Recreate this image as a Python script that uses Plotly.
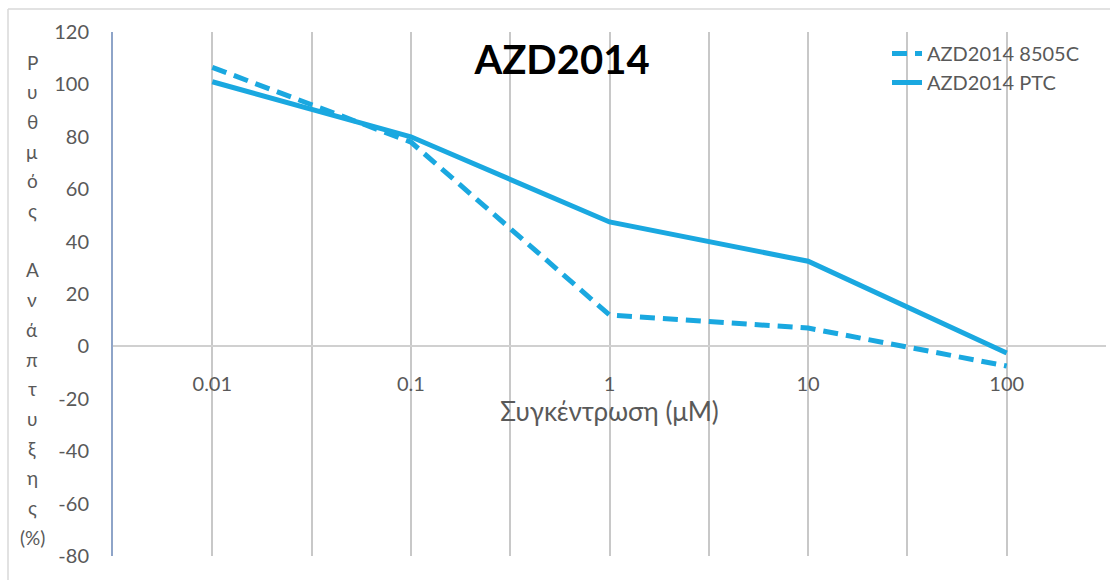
import plotly.graph_objects as go

concentrations = [0.01, 0.1, 1, 10, 100]
tick_labels = ["0.01", "0.1", "1", "10", "100"]
y_ticks = [-80, -60, -40, -20, 0, 20, 40, 60, 80, 100, 120]
y_tick_labels = ["-80", "-60", "-40", "-20", "0", "20", "40", "60", "80", "100", "120"]
growth_8505c = [106.5, 78, 12, 7, -7.5]
growth_ptc = [101, 80, 47.5, 32.5, -2.5]
series_names = ["AZD2014 8505C", "AZD2014 PTC"]
y_title_chars = ["Ρ", "υ", "θ", "μ", "ό", "ς", "", "Α", "ν", "ά", "π", "τ", "υ", "ξ", "η", "ς", "(%)"]

LINE_COLOR = "#1AA8E0"
FONT = "Lato"
TXT = "#595959"

fig = go.Figure()
fig.add_trace(go.Scatter(x=concentrations, y=growth_8505c, mode="lines", name=series_names[0],
                         line=dict(color=LINE_COLOR, width=5, dash="15px,8px")))
fig.add_trace(go.Scatter(x=concentrations, y=growth_ptc, mode="lines", name=series_names[1],
                         line=dict(color=LINE_COLOR, width=5)))

W, H = 1110, 580
L, R, T, B = 113, 4, 32, 24
pw, ph = W - L - R, H - T - B

def px_to_paper_x(px):
    return (px - L) / pw

def px_to_paper_y(py):
    return (H - B - py) / ph

minor_vals = [0.01 / 10 ** 0.5 * 10 ** i for i in range(6)]

fig.update_layout(
    width=W, height=H,
    margin=dict(l=L, r=R, t=T, b=B),
    paper_bgcolor="white", plot_bgcolor="white",
    font=dict(family=FONT, color=TXT),
    title=dict(text="<b>AZD2014</b>", x=562 / W, xanchor="center", xref="container",
               y=1 - 60 / H, yanchor="middle", yref="container",
               font=dict(family=FONT, size=40, color="black")),
    showlegend=True,
    legend=dict(x=px_to_paper_x(887), y=px_to_paper_y(34), xanchor="left", yanchor="top",
                bgcolor="rgba(255,255,255,0)", font=dict(size=20, color=TXT),
                tracegroupgap=0, itemwidth=30),
    xaxis=dict(type="log", range=[-2.5, 2.5], tickvals=concentrations, ticktext=tick_labels,
               anchor="free", position=0.4, showline=False, zeroline=False,
               ticks="outside", ticklen=20, tickcolor="rgba(0,0,0,0)",
               tickfont=dict(size=20, color=TXT),
               showgrid=True, gridcolor="#C8C8C8", gridwidth=1.5,
               minor=dict(tickvals=minor_vals, showgrid=True, gridcolor="#C8C8C8", gridwidth=1.5, ticks=""),
               title=dict(text="Συγκέντρωση (μM)", font=dict(size=26, color=TXT), standoff=0)),
    yaxis=dict(range=[-80, 120], tickvals=y_ticks, ticktext=y_tick_labels, showgrid=False,
               zeroline=True, zerolinecolor="#D0D0D0", zerolinewidth=1.5,
               showline=True, linecolor="#8EA4C8", linewidth=2,
               ticks="outside", ticklen=18, tickcolor="rgba(0,0,0,0)",
               tickfont=dict(size=20, color=TXT)),
)

for i, ch in enumerate(y_title_chars):
    if not ch:
        continue
    fig.add_annotation(text=ch, xref="paper", yref="paper", x=px_to_paper_x(32),
                       y=px_to_paper_y(62 + i * 29.7), xanchor="center", yanchor="middle",
                       showarrow=False, font=dict(size=19, color=TXT, family=FONT))

# outer chart border (top and left)
fig.add_shape(type="line", xref="paper", yref="paper", x0=px_to_paper_x(8), x1=px_to_paper_x(1115),
              y0=px_to_paper_y(9), y1=px_to_paper_y(9), line=dict(color="#D9D9D9", width=1.5))
fig.add_shape(type="line", xref="paper", yref="paper", x0=px_to_paper_x(8), x1=px_to_paper_x(8),
              y0=px_to_paper_y(9), y1=px_to_paper_y(585), line=dict(color="#D9D9D9", width=1.5))

fig.write_html("out.html", config={"displayModeBar": False},
               post_script="document.body.style.margin='0';document.body.style.overflow='hidden';")
